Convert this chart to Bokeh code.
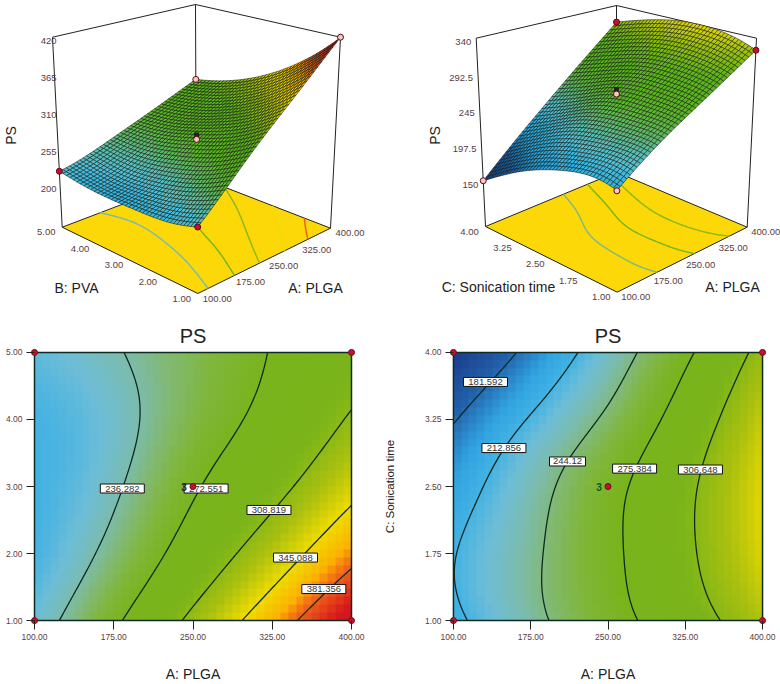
from contourpy import contour_generator
import numpy as np
from bokeh.core.properties import value
from bokeh.embed import file_html
from bokeh.layouts import column, row
from bokeh.models import FixedTicker, LinearAxis, Range1d
from bokeh.plotting import figure
from bokeh.resources import INLINE

# ---- values --------------------------------------------------------------
# Points: (A, B or C) for a known PS level.
ab_levels = [236.282, 272.551, 308.819, 345.088, 381.356]
ab_a = [[123.6, 145.6, 172.4, 185.0, 196.0, 200.1, 196.0, 183.4],
        [182.5, 216.5, 260.5, 296.7, 315.6, 319.4],
        [240.0, 279.4, 322.0, 364.4, 400.0],
        [295.8, 347.1, 400.0],
        [349.6, 400.0]]
ab_b = [[1.0, 1.62, 2.50, 2.99, 3.58, 3.99, 4.56, 5.0],
        [1.0, 1.82, 2.92, 3.97, 4.61, 5.0],
        [1.0, 1.77, 2.55, 3.38, 4.16],
        [1.0, 1.87, 2.73],
        [1.0, 1.77]]
ac_levels = [181.592, 212.856, 244.12, 275.384, 306.648]
ac_a = [[100.0, 130.5, 161.0],
        [100.0, 101.6, 109.6, 129.0, 149.0, 177.0, 219.7],
        [192.0, 186.0, 189.8, 210.7, 238.0, 278.0],
        [279.0, 265.0, 268.4, 276.5, 305.0, 333.0],
        [359.0, 337.0, 334.0, 340.6, 356.7, 386.5]]
ac_c = [[3.2, 3.59, 3.99],
        [1.52, 1.76, 1.94, 2.49, 2.93, 3.35, 3.99],
        [1.0, 1.5, 1.98, 2.78, 3.18, 3.99],
        [1.0, 1.76, 2.27, 2.71, 3.33, 3.99],
        [1.0, 1.68, 2.12, 2.69, 3.22, 3.99]]
# Design points (marked dots) with the PS height.
ab_design_a = [100, 400, 100, 400, 250]
ab_design_b = [1, 1, 5, 5, 3]
ab_design_ps = [224, 420, 221, 297, 272.5]
ac_design_a = [100, 400, 100, 400, 250]
ac_design_c = [1, 1, 4, 4, 2.5]
ac_design_ps = [207, 324, 150, 315, 268]
# Replicate centre point, just above the surface in the 3-D panels.
ab_replicate_ps = 279
ac_replicate_ps = 274
# Extra readings taken from the shading of the flat maps.
ab_shade_a = [100]
ab_shade_b = [3]
ab_shade_ps = [212]
ac_shade_a = [400]
ac_shade_c = [2.5]
ac_shade_ps = [340]
# Contour label positions.
ab_label_a = [183.1, 262.4, 321.9, 347.0, 373.8]
ab_label_b = [2.97, 2.97, 2.65, 1.94, 1.47]
ac_label_a = [131.1, 149.0, 210.7, 275.8, 339.7]
ac_label_c = [3.67, 2.93, 2.78, 2.70, 2.69]
ab_label_text = ["236.282", "272.551", "308.819", "345.088", "381.356"]
ac_label_text = ["181.592", "212.856", "244.12", "275.384", "306.648"]
# Contours that the 3-D floors show.
ab_floor_levels = [236.282, 272.551, 308.819, 345.088, 381.356]
ac_floor_levels = [244.12, 275.384, 306.648]
# Tick labels.
a_ticks = [100, 175, 250, 325, 400]
b_ticks = [1, 2, 3, 4, 5]
c_ticks = [1, 1.75, 2.5, 3.25, 4]
ps_ticks_ab = [200, 255, 310, 365, 420]
ps_ticks_ac = [150, 197.5, 245, 292.5, 340]
# Colour ramp: PS value -> colour.
ramp_ps = [150, 178, 200, 212, 224, 236, 246, 258, 272, 300, 322, 345, 365, 378, 405, 420]
ramp_rgb = [(28, 58, 138), (34, 96, 170), (50, 165, 225), (66, 178, 228), (110, 190, 216),
            (124, 188, 172), (130, 185, 115), (128, 183, 60), (122, 180, 30), (122, 181, 26),
            (170, 192, 16), (240, 220, 0), (252, 178, 0), (242, 104, 24), (216, 26, 30), (210, 16, 30)]

FONT = value("Liberation Sans")
TICK = "#5b3c3c"
LINE = "#0d2b22"


def colours(ps):
    return np.stack([np.interp(ps, ramp_ps, [c[i] for c in ramp_rgb]) for i in range(3)], -1)


def hexes(ps, vivid=False):
    cols = colours(ps)
    if vivid:
        cols[..., 0] *= np.interp(ps, [290, 335], [0.72, 1.0])
    return ["#%02x%02x%02x" % tuple(int(round(v)) for v in c) for c in cols]


class Surface:
    """Smooth sheet through the read points above (least-squares polynomial plus a
    stiff thin-plate correction); only used to draw the fine mesh, the shaded
    cells and the contour curves."""

    def __init__(self, levels, xs, ys, dx, dy, dz, sx, sy, sz, yr):
        self.y0, self.y1 = yr
        X = np.array([v for l in xs for v in l] + list(dx) + list(sx), float)
        Y = np.array([v for l in ys for v in l] + list(dy) + list(sy), float)
        Z = np.array([lv for lv, l in zip(levels, xs) for _ in l] + list(dz) + list(sz), float)
        w = np.ones(len(X))
        w[-(len(dx) + len(sx)):] = 3.0
        self.beta = np.linalg.lstsq(self.terms(X, Y) * w[:, None], Z * w, rcond=None)[0]
        res = Z - self.terms(X, Y) @ self.beta
        self.P = self.scaled(X, Y)
        n = len(X)
        K = self.kernel(self.P[:, None, :] - self.P[None, :, :]) + 0.03 * np.eye(n)
        self.coef = np.linalg.solve(K, res)

    def scaled(self, x, y):
        a = (np.asarray(x, float) - 250) / 150
        b = (np.asarray(y, float) - (self.y0 + self.y1) / 2) / ((self.y1 - self.y0) / 2)
        return np.stack([a, b], -1)

    def terms(self, x, y):
        q = self.scaled(x, y)
        a, b = q[..., 0], q[..., 1]
        return np.stack([a * 0 + 1, a, b, a * b, a * a, b * b, a * a * b, a * b * b,
                         a ** 3, b ** 3, a * a * b * b], -1)

    @staticmethod
    def kernel(d):
        r2 = (d ** 2).sum(-1)
        return np.exp(-r2 / 0.5)

    def __call__(self, x, y):
        q = self.scaled(x, y)
        return self.terms(x, y) @ self.beta + self.kernel(q[..., None, :] - self.P) @ self.coef

    def contours(self, levels):
        gx, gy = np.meshgrid(np.linspace(100, 400, 121), np.linspace(self.y0, self.y1, 121))
        gen = contour_generator(gx, gy, self(gx, gy))
        return [gen.lines(lv) for lv in levels]


ab = Surface(ab_levels, ab_a, ab_b, ab_design_a, ab_design_b, ab_design_ps,
             ab_shade_a, ab_shade_b, ab_shade_ps, (1, 5))
ac = Surface(ac_levels, ac_a, ac_c, ac_design_a, ac_design_c, ac_design_ps,
             ac_shade_a, ac_shade_c, ac_shade_ps, (1, 4))


def make_3d(surf, box, zlim, xr, size, design, replicate, zticks, zlab_x, ylabels, levels, texts, a_off):
    p = figure(width=size[0], height=size[1], x_range=Range1d(*xr), y_range=Range1d(size[1], 0),
               output_backend="svg", toolbar_location=None, min_border=0)
    p.axis.visible = False
    p.grid.visible = False
    p.outline_line_color = None

    def proj(x, y, z):
        u = (np.asarray(x, float) - 100) / 300
        v = (np.asarray(y, float) - surf.y0) / (surf.y1 - surf.y0)
        w = (np.asarray(z, float) - zlim[0]) / (zlim[1] - zlim[0])
        out = []
        for k in range(2):
            fl = (box["f"][0][k] * (1 - u) * (1 - v) + box["f"][1][k] * u * (1 - v)
                  + box["f"][2][k] * (1 - u) * v + box["f"][3][k] * u * v)
            tp = (box["t"][0][k] * (1 - u) * (1 - v) + box["t"][1][k] * u * (1 - v)
                  + box["t"][2][k] * (1 - u) * v + box["t"][3][k] * u * v)
            out.append(fl * (1 - w) + tp * w)
        return out

    lo, hi, ylo, yhi = 100, 400, surf.y0, surf.y1
    # floor
    fx, fy = proj([lo, hi, hi, lo], [ylo, ylo, yhi, yhi], [zlim[0]] * 4)
    p.patch(list(fx), list(fy), fill_color="#fdd808", line_color="#222222", line_width=1)
    # floor contours
    for lv, segs in zip(levels, surf.contours(levels)):
        for s in segs:
            sx, sy = proj(s[:, 0], s[:, 1], np.full(len(s), zlim[0]))
            col = hexes(np.array([lv]))[0]
            p.line(list(sx), list(sy), line_color=col, line_width=1.5)
    # back walls of the box
    for (x0, y0, z0), (x1, y1, z1) in [
        ((lo, yhi, zlim[0]), (lo, yhi, zlim[1])), ((hi, yhi, zlim[0]), (hi, yhi, zlim[1])),
        ((hi, ylo, zlim[0]), (hi, ylo, zlim[1])), ((lo, yhi, zlim[1]), (hi, yhi, zlim[1])),
        ((hi, yhi, zlim[1]), (hi, ylo, zlim[1]))]:
        lx, ly = proj([x0, x1], [y0, y1], [z0, z1])
        p.line(list(lx), list(ly), line_color="#222222", line_width=1)
    # mesh, far cells first
    n = 40
    ga = np.linspace(lo, hi, n + 1)
    gb = np.linspace(ylo, yhi, n + 1)
    A, B = np.meshgrid(ga, gb, indexing="ij")
    Z = surf(A, B)
    PX, PY = proj(A, B, Z)
    order = sorted(((i, j) for i in range(n) for j in range(n)), key=lambda t: -(t[0] + t[1]))
    xs, ys, vals = [], [], []
    for i, j in order:
        xs.append([PX[i, j], PX[i + 1, j], PX[i + 1, j + 1], PX[i, j + 1]])
        ys.append([PY[i, j], PY[i + 1, j], PY[i + 1, j + 1], PY[i, j + 1]])
        vals.append(Z[i:i + 2, j:j + 2].mean())
    p.patches(xs, ys, fill_color=hexes(np.array(vals), vivid=True), line_color="#0a1208", line_width=0.6, line_alpha=0.85)
    # design points
    rx, ry = proj([250], [(ylo + yhi) / 2], [replicate])
    p.scatter(list(rx), list(ry), size=4, marker="square", fill_color="#222222", line_color="#222222")
    dx, dy = proj(design[0], design[1], design[2])
    p.scatter(list(dx), list(dy), size=6, marker="circle", fill_color=design[3], line_color="#5a0a14", line_width=1)
    # value ticks
    zx, zy = proj([lo] * 5, [yhi] * 5, zticks)
    p.text(zlab_x(zx), list(np.asarray(zy) + 4), text=[str(t) for t in zticks], text_font=FONT, text_font_size="9.5px",
           text_color=TICK, text_align="right", text_baseline="middle")
    # floor ticks
    ax, ay = proj(a_ticks, [ylo] * 5, [zlim[0]] * 5)
    p.text(list(np.asarray(ax) + a_off), list(np.asarray(ay) + 5), text=[f"{t:.2f}" for t in a_ticks], text_font=FONT,
           text_font_size="9.5px", text_color=TICK, text_align="center", text_baseline="middle")
    bx, by = proj([lo] * 5, ylabels, [zlim[0]] * 5)
    p.text(list(np.asarray(bx) - 16), list(np.asarray(by) + 5), text=[f"{t:.2f}" for t in ylabels], text_font=FONT,
           text_font_size="9.5px", text_color=TICK, text_align="center", text_baseline="middle")
    # axis names
    p.text([texts[0][0]], [texts[0][1]], text=["PS"], angle=np.pi / 2, text_font=FONT, text_font_size="14px",
           text_color="#222222", text_align="center", text_baseline="middle")
    for name in texts[1:]:
        p.text([name[0]], [name[1]], text=[name[2]], text_font=FONT, text_font_size="14px",
               text_color="#222222", text_align="center", text_baseline="middle")
    return p


def make_2d(surf, levels, la, lb, ltext, width, height, left, right, top, bottom, dpts, ylab, yticks, mark_col):
    pad = 6
    fw = width - left - right - 2 * pad
    fh = height - top - bottom - 2 * pad
    dxp = pad * 300 / fw
    dyp = pad * (surf.y1 - surf.y0) / fh
    p = figure(width=width, height=height, x_range=Range1d(100 - dxp, 400 + dxp),
               y_range=Range1d(surf.y0 - dyp, surf.y1 + dyp), output_backend="svg", toolbar_location=None,
               min_border_left=left, min_border_right=right, min_border_top=top, min_border_bottom=bottom,
               x_axis_type=None, y_axis_type=None)
    p.grid.visible = False
    p.outline_line_color = None
    p.title.text = "PS"
    p.title.text_font = "Liberation Sans"
    p.title.text_font_size = "20px"
    p.title.text_font_style = "normal"
    p.title.text_color = "#222222"
    p.title.align = "center"
    p.title.standoff = 0

    nx, ny = 40, 34
    cx = np.linspace(100, 400, nx, endpoint=False) + 150 / nx
    cy = np.linspace(surf.y0, surf.y1, ny, endpoint=False) + (surf.y1 - surf.y0) / ny / 2
    gx, gy = np.meshgrid(cx, cy)
    rgb = colours(surf(gx, gy)).astype(np.uint32)
    img = (255 << 24) | (rgb[..., 2] << 16) | (rgb[..., 1] << 8) | rgb[..., 0]
    p.image_rgba(image=[img.astype(np.uint32)], x=100, y=surf.y0, dw=300, dh=surf.y1 - surf.y0)

    for segs in surf.contours(levels):
        for s in segs:
            p.line(list(s[:, 0]), list(s[:, 1]), line_color=LINE, line_width=1.3)
    p.line([100, 400, 400, 100, 100], [surf.y0, surf.y0, surf.y1, surf.y1, surf.y0], line_color=LINE, line_width=1.5)

    p.rect(la, lb, width=[44 if len(t) > 6 else 36 for t in ltext], height=9, width_units="screen", height_units="screen",
           fill_color="white", line_color="#111111", line_width=1)
    p.text(la, lb, text=ltext, text_font=FONT, text_font_size="9.5px", text_color="#333333",
           text_align="center", text_baseline="middle")
    p.scatter(dpts[0], dpts[1], size=6, marker="circle", fill_color="#c8102e", line_color="#6b0f1a", line_width=1)
    p.text([250 - 9 * 300 / fw], [dpts[1][-1]], text=["3"], text_font=FONT, text_font_size="10px",
           text_font_style="bold", text_color=mark_col, text_align="center", text_baseline="middle")

    xa = LinearAxis(ticker=FixedTicker(ticks=a_ticks), major_label_overrides={t: f"{t:.2f}" for t in a_ticks})
    xa.axis_label = "A: PLGA"
    xa.axis_label_standoff = 23
    xa.axis_label_text_font = "Liberation Sans"
    xa.axis_label_text_font_size = "14px"
    xa.axis_label_text_font_style = "normal"
    xa.axis_label_text_color = "#222222"
    ya = LinearAxis(ticker=FixedTicker(ticks=yticks), major_label_overrides={t: f"{t:.2f}" for t in yticks})
    if ylab:
        ya.axis_label = ylab
        ya.axis_label_standoff = 26
        ya.axis_label_text_font = "Liberation Sans"
        ya.axis_label_text_font_size = "11.5px"
        ya.axis_label_text_font_style = "normal"
        ya.axis_label_text_color = "#222222"
    for ax in (xa, ya):
        ax.major_tick_in = pad
        ax.minor_tick_out = 0
        ax.minor_tick_in = 0
        ax.axis_line_color = None
        ax.major_tick_line_color = "#222222"
        ax.major_label_standoff = 4
        ax.major_label_text_font = "Liberation Sans"
        ax.major_label_text_font_size = "8.5px"
        ax.major_label_text_color = TICK
    xa.major_tick_out = 3
    ya.major_tick_out = 2
    p.add_layout(xa, "below")
    p.add_layout(ya, "left")
    return p


PINK, RED = "#f4c9c4", "#c8102e"
box_ab = {"f": [(197.3, 293), (330, 227.7), (61.7, 226.7), (195.7, 175.7)],
          "t": [(197, 75), (340, 36.7), (52, 36.7), (195, 4)]}
box_ac = {"f": [(616.7, 291.7), (746.7, 226.7), (485, 226), (616, 171.7)],
          "t": [(616, 76), (756, 37.7), (475.7, 37.7), (616, 5)]}

p1 = make_3d(ab, box_ab, (138, 420), (0, 380), (380, 322),
             (ab_design_a, ab_design_b, ab_design_ps, [RED, PINK, RED, PINK, PINK]), ab_replicate_ps, ps_ticks_ab,
             lambda zx: [56] * 5, b_ticks, ab_floor_levels,
             [(10.7, 135), (76, 287, "B: PVA"), (315, 287, "A: PLGA")], 19.5)
p2 = make_3d(ac, box_ac, (89, 340), (380, 780), (400, 322),
             (ac_design_a, ac_design_c, ac_design_ps, [PINK, RED, PINK, RED, PINK]), ac_replicate_ps, ps_ticks_ac,
             lambda zx: list(np.asarray(zx) - 5), c_ticks, ac_floor_levels,
             [(434.3, 135), (498, 286.7, "C: Sonication time"), (732, 286.7, "A: PLGA")], 18.5)
p3 = make_2d(ab, ab_levels, ab_label_a, ab_label_b, ab_label_text, 380, 362, 28, 23, 22, 56,
             (ab_design_a, ab_design_b), None, b_ticks, "#222222")
p4 = make_2d(ac, ac_levels, ac_label_a, ac_label_c, ac_label_text, 400, 362, 64, 12, 22, 56,
             (ac_design_a, ac_design_c), "C: Sonication time", c_ticks, "#0a5a2a")

page = column(row(p1, p2, spacing=0), row(p3, p4, spacing=0), spacing=0)
open("out.html", "w").write(file_html(page, INLINE))
